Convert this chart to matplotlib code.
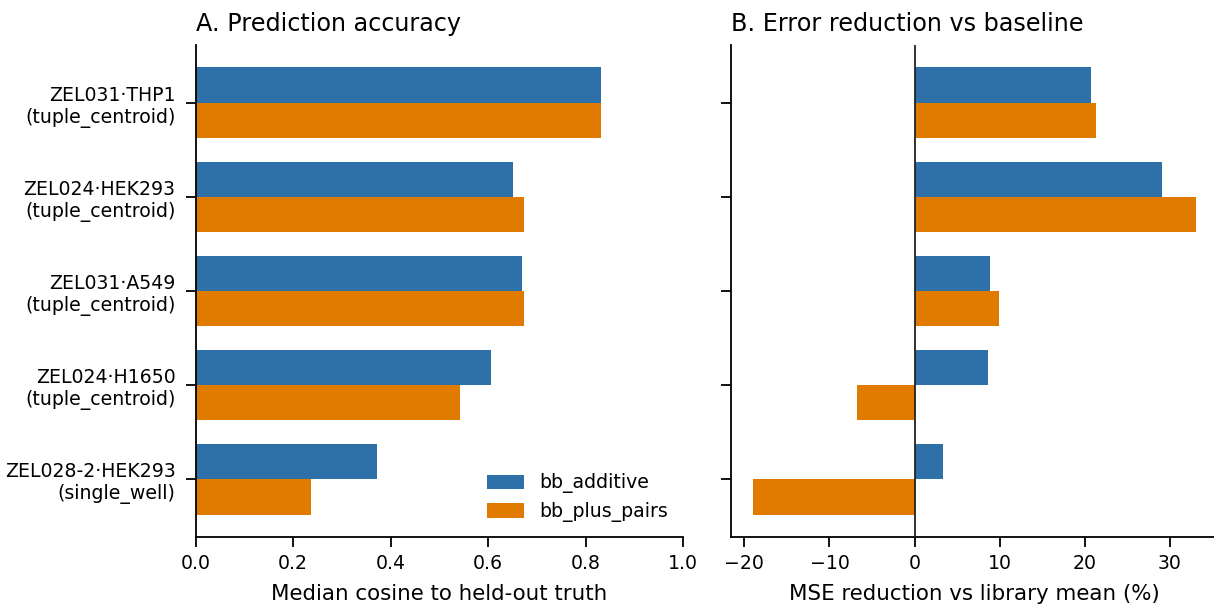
import matplotlib
matplotlib.use("Agg")
import matplotlib.pyplot as plt
import numpy as np

# Datasets (rows, top to bottom) and the two model variants
datasets = [
    "ZEL031\u00b7THP1\n(tuple_centroid)",
    "ZEL024\u00b7HEK293\n(tuple_centroid)",
    "ZEL031\u00b7A549\n(tuple_centroid)",
    "ZEL024\u00b7H1650\n(tuple_centroid)",
    "ZEL028-2\u00b7HEK293\n(single_well)",
]
models = ["bb_additive", "bb_plus_pairs"]

# Median cosine similarity to held-out truth
cosine_additive = [0.832, 0.651, 0.669, 0.606, 0.372]
cosine_pairs = [0.832, 0.674, 0.674, 0.541, 0.236]

# MSE reduction relative to the library-mean baseline (%)
mse_red_additive = [20.7, 29.1, 8.9, 8.6, 3.3]
mse_red_pairs = [21.3, 33.1, 9.9, -6.8, -19.0]

colors = ["#2e70a8", "#e07b00"]
TICK_FS = 13.6
LABEL_FS = 15.4
TITLE_FS = 17.2

plt.rcParams["font.family"] = ["DejaVu Sans"]
plt.rcParams["axes.linewidth"] = 1.3
plt.rcParams["xtick.major.width"] = 1.3
plt.rcParams["ytick.major.width"] = 1.3
plt.rcParams["xtick.major.size"] = 7
plt.rcParams["ytick.major.size"] = 7
plt.rcParams["xtick.major.pad"] = 5.5
plt.rcParams["ytick.major.pad"] = 7.5

fig = plt.figure(figsize=(12.14, 6.04), dpi=100)
ax1 = fig.add_axes([0.1612, 0.111, 0.4017, 0.8145])
ax2 = fig.add_axes([0.6019, 0.111, 0.4017, 0.8145])

y = np.arange(len(datasets))
h = 0.375

# Panel A
ax1.barh(y - h / 2, cosine_additive, height=h, color=colors[0], label=models[0], linewidth=0)
ax1.barh(y + h / 2, cosine_pairs, height=h, color=colors[1], label=models[1], linewidth=0)
ax1.set_xlim(0, 1.0)
ax1.set_yticks(y)
ax1.set_yticklabels(datasets, fontsize=TICK_FS)
ax1.set_xlabel("Median cosine to held-out truth", fontsize=LABEL_FS, labelpad=8)
ax1.set_title("A. Prediction accuracy", fontsize=TITLE_FS, loc="left", pad=10)
ax1.legend(loc="lower right", frameon=False, fontsize=TICK_FS,
           handlelength=2.0, handleheight=0.8, borderaxespad=0.4,
           labelspacing=0.45)

# Panel B
ax2.barh(y - h / 2, mse_red_additive, height=h, color=colors[0], linewidth=0)
ax2.barh(y + h / 2, mse_red_pairs, height=h, color=colors[1], linewidth=0)
ax2.axvline(0, color="#222222", linewidth=1.3, zorder=3)
ax2.set_yticks(y)
ax2.set_yticklabels([])
ax2.set_xlabel("MSE reduction vs library mean (%)", fontsize=LABEL_FS, labelpad=8)
ax2.set_title("B. Error reduction vs baseline", fontsize=TITLE_FS, loc="left", pad=10)

for ax in (ax1, ax2):
    ax.spines["top"].set_visible(False)
    ax.spines["right"].set_visible(False)
    ax.tick_params(axis="x", labelsize=TICK_FS)
    ax.set_ylim(len(datasets) - 1 + 0.6125, -0.6125)

fig.savefig("out.png", dpi=100)
